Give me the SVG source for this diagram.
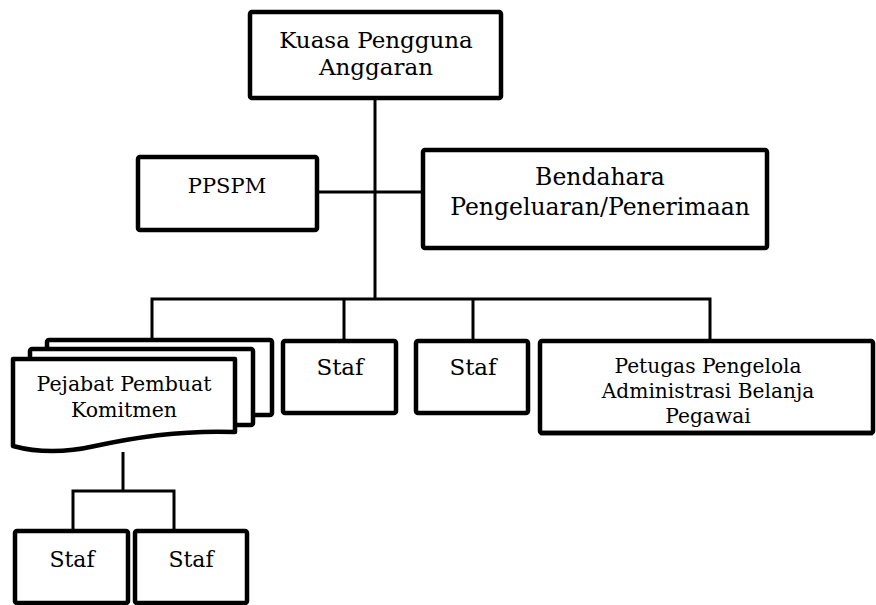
<svg xmlns="http://www.w3.org/2000/svg" width="876" height="605" viewBox="0 0 876 605">
<style>
.box{fill:#fff;stroke:#000;stroke-width:4.5;stroke-linejoin:round}
.ln{fill:none;stroke:#000;stroke-width:3}
.t{font-family:"DejaVu Serif","Liberation Serif",serif;fill:#000;text-anchor:middle}
</style>
<defs>
<clipPath id="cp"><rect x="540" y="341" width="333" height="90"/></clipPath>
</defs>
<rect width="876" height="605" fill="#fff"/>
<g id="connectors">
<line class="ln" x1="375" y1="98" x2="375" y2="299"/>
<line class="ln" x1="317" y1="192" x2="423" y2="192"/>
<polyline class="ln" points="152,340 152,299 710,299 710,340"/>
<line class="ln" x1="344" y1="299" x2="344" y2="341"/>
<line class="ln" x1="473" y1="299" x2="473" y2="341"/>
<line class="ln" x1="123" y1="452" x2="123" y2="491"/>
<polyline class="ln" points="73,531 73,491 174,491 174,531"/>
</g>
<g id="kpa">
<rect class="box" x="250" y="12" width="251" height="86" rx="2"/>
<text class="t" x="376" y="48" font-size="23">Kuasa Pengguna</text>
<text class="t" x="376" y="75" font-size="23">Anggaran</text>
</g>
<g id="ppspm">
<rect class="box" x="138" y="157" width="179" height="73" rx="2"/>
<text class="t" x="227" y="193" font-size="21">PPSPM</text>
</g>
<g id="bendahara">
<rect class="box" x="423" y="150" width="344" height="98" rx="2"/>
<text class="t" x="600" y="185" font-size="23.5">Bendahara</text>
<text class="t" x="600" y="215" font-size="23.5">Pengeluaran/Penerimaan</text>
</g>
<g id="ppk">
<rect class="box" x="47" y="340" width="225" height="75" rx="2"/>
<rect class="box" x="30" y="349" width="223" height="76" rx="2"/>
<path class="box" d="M13,359 H235 V432 C185,430 140,436 95,446 C60,454 35,452 13,446 Z"/>
<text class="t" x="124" y="391" font-size="20.5">Pejabat Pembuat</text>
<text class="t" x="124" y="417" font-size="20.5">Komitmen</text>
</g>
<g id="staf1">
<rect class="box" x="283" y="341" width="113" height="72" rx="2"/>
<text class="t" x="340" y="375" font-size="23">Staf</text>
</g>
<g id="staf2">
<rect class="box" x="416" y="341" width="112" height="72" rx="2"/>
<text class="t" x="473" y="375" font-size="23">Staf</text>
</g>
<g id="petugas">
<rect class="box" x="540" y="341" width="333" height="92" rx="2"/>
<g clip-path="url(#cp)">
<text class="t" x="708" y="373" font-size="20.2">Petugas Pengelola</text>
<text class="t" x="708" y="398" font-size="20.2">Administrasi Belanja</text>
<text class="t" x="708" y="423" font-size="20.2">Pegawai</text>
</g>
<line x1="540" y1="433" x2="873" y2="433" stroke="#000" stroke-width="4.5"/>
</g>
<g id="staf3">
<rect class="box" x="15" y="531" width="113" height="72" rx="2"/>
<text class="t" x="72" y="567" font-size="22">Staf</text>
</g>
<g id="staf4">
<rect class="box" x="135" y="531" width="112" height="72" rx="2"/>
<text class="t" x="191" y="567" font-size="22">Staf</text>
</g>
</svg>
